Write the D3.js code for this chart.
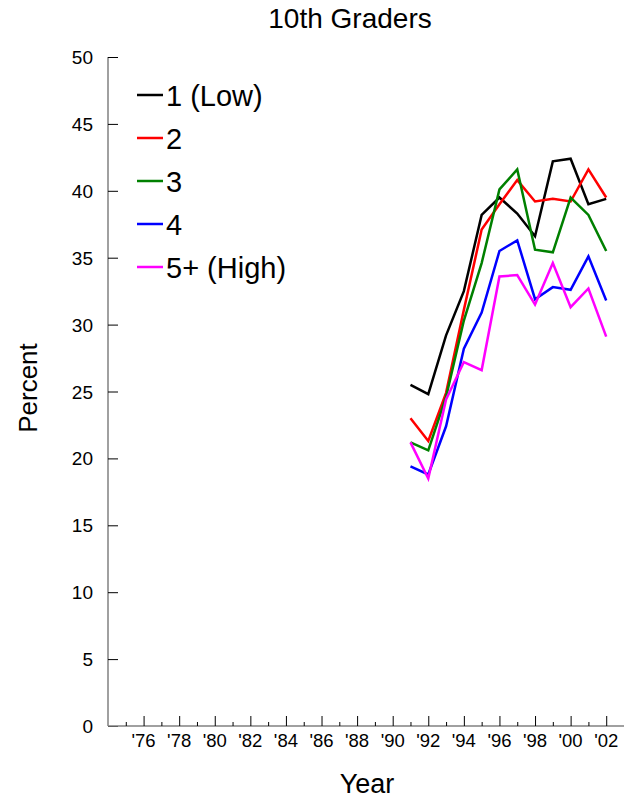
<!DOCTYPE html>
<html><head><meta charset="utf-8">
<script src="https://cdn.jsdelivr.net/npm/d3@7"></script>
<style>body{margin:0;background:#fff}svg{display:block;font-family:Arial,"Liberation Sans",sans-serif}</style>
</head><body><svg id="c" width="624" height="800"></svg>
<script>
const years = [1991,1992,1993,1994,1995,1996,1997,1998,1999,2000,2001,2002];
const seriesNames = ["1 (Low)","2","3","4","5+ (High)"];
const seriesColors = ["#000000","#ff0000","#008000","#0000ff","#ff00ff"];
const low1  = [25.5,24.8,29.2,32.5,38.2,39.5,38.3,36.6,42.2,42.4,39.0,39.4];
const s2    = [23.0,21.3,24.9,31.1,37.1,39.0,40.8,39.2,39.4,39.2,41.6,39.5];
const s3    = [21.2,20.6,24.6,30.3,34.6,40.1,41.6,35.6,35.4,39.5,38.2,35.5];
const s4    = [19.4,18.8,22.4,28.2,30.9,35.5,36.3,31.9,32.8,32.6,35.1,31.8];
const high5 = [21.2,18.5,24.4,27.2,26.6,33.6,33.7,31.5,34.6,31.3,32.7,29.1];
const yTicks = [0,5,10,15,20,25,30,35,40,45,50];
const xMajor = [1976,1978,1980,1982,1984,1986,1988,1990,1992,1994,1996,1998,2000,2002];
const xMinor = [1975,1977,1979,1981,1983,1985,1987,1989,1991,1993,1995,1997,1999,2001,2003];
const allSeries = [low1,s2,s3,s4,high5];

const svg = d3.select("#c");
const x = d3.scaleLinear().domain([1974,2003]).range([108,624]);
const y = d3.scaleLinear().domain([0,50]).range([726,57]);

// title
svg.append("text").attr("x",350).attr("y",28).attr("text-anchor","middle")
  .attr("font-size",28).text("10th Graders");

// y axis
const ya = svg.append("g").attr("transform","translate(108,0)")
  .call(d3.axisRight(y).tickValues(yTicks).tickSize(10).tickFormat(""));
ya.select(".domain").attr("stroke","#808080").attr("stroke-width",1.5).attr("d","M0,57V726");
ya.selectAll(".tick line").attr("stroke","#000");
svg.append("g").selectAll("text").data(yTicks).join("text")
  .attr("x",93).attr("y",d=>y(d)+7).attr("text-anchor","end").attr("font-size",19).text(d=>d);

// x axis
const xa = svg.append("g").attr("transform","translate(0,726)")
  .call(d3.axisTop(x).tickValues(xMajor).tickSize(10).tickFormat(""));
xa.select(".domain").attr("stroke","#808080").attr("stroke-width",1.5).attr("d","M108,0H624");
xa.selectAll(".tick line").attr("stroke","#000");
const xm = svg.append("g").attr("transform","translate(0,726)")
  .call(d3.axisTop(x).tickValues(xMinor).tickSize(4).tickFormat(""));
xm.select(".domain").remove();
xm.selectAll(".tick line").attr("stroke","#000");
svg.append("g").selectAll("text").data(xMajor).join("text")
  .attr("x",d=>x(d)).attr("y",747).attr("text-anchor","middle").attr("font-size",18.5)
  .text(d=>"'"+String(d).slice(2));

// axis titles
svg.append("text").attr("x",367).attr("y",793).attr("text-anchor","middle").attr("font-size",27).text("Year");
svg.append("text").attr("transform","translate(37,388) rotate(-90)").attr("text-anchor","middle").attr("font-size",26).text("Percent");

// lines
const line = d3.line().x((d,i)=>x(years[i])).y(d=>y(d));
svg.append("g").selectAll("path").data(allSeries).join("path")
  .attr("d",line).attr("fill","none").attr("stroke",(d,i)=>seriesColors[i]).attr("stroke-width",2.5);

// legend
const lg = svg.append("g");
seriesNames.forEach((n,i)=>{
  const yy = 95 + i*43;
  lg.append("line").attr("x1",137).attr("x2",163).attr("y1",yy).attr("y2",yy)
    .attr("stroke",seriesColors[i]).attr("stroke-width",2.5);
  lg.append("text").attr("x",166).attr("y",yy+11).attr("font-size",29).text(n);
});
</script></body></html>
